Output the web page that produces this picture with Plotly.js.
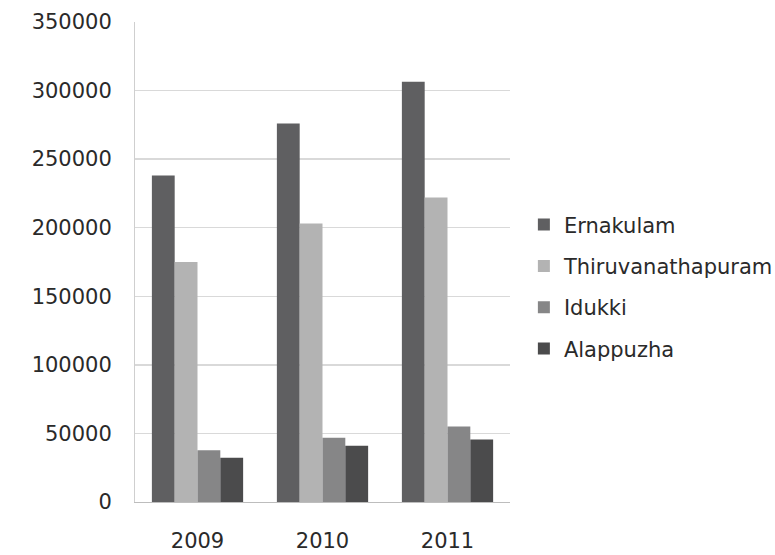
<!DOCTYPE html>
<html>
<head>
<meta charset="utf-8">
<script src="https://cdn.plot.ly/plotly-3.0.1.min.js"></script>
<style>html,body{margin:0;padding:0;background:#fff;}</style>
</head>
<body>
<div id="chart" style="width:775px;height:555px;"></div>
<script>
const years = ["2009", "2010", "2011"];
const ernakulam = [238000, 276000, 306500];
const thiruvananthapuram = [175000, 203000, 222000];
const idukki = [37800, 46800, 55000];
const alappuzha = [32200, 41000, 45600];

const names = ["Ernakulam", "Thiruvanathapuram", "Idukki", "Alappuzha"];
const colors = ["#5f5f61", "#b3b3b3", "#868687", "#4b4b4c"];
const series = [ernakulam, thiruvananthapuram, idukki, alappuzha];

const traces = series.map((vals, i) => ({
  type: "bar",
  x: years,
  y: vals,
  name: names[i],
  legendgroup: "g" + i,
  marker: {color: colors[i], line: {width: 0}},
  hoverinfo: "x+y+name"
}));

const font = {family: "'DejaVu Sans', sans-serif", size: 21, color: "#2a2a2a"};

const layout = {
  width: 775,
  height: 555,
  margin: {l: 135, r: 265, t: 22, b: 53, autoexpand: false},
  paper_bgcolor: "#ffffff",
  plot_bgcolor: "#ffffff",
  font: font,
  barmode: "group",
  bargap: 0.27,
  bargroupgap: 0,
  showlegend: true,
  legend: {
    x: 1.037, xanchor: "left",
    y: 0.448, yanchor: "middle",
    traceorder: "grouped",
    tracegroupgap: 11,
    font: font,
    itemclick: false
  },
  xaxis: {
    type: "category",
    showgrid: false,
    showline: true,
    linecolor: "#bdbdbd",
    linewidth: 1,
    ticks: "outside",
    ticklen: 20,
    tickcolor: "rgba(0,0,0,0)",
    tickfont: font,
    zeroline: false
  },
  yaxis: {
    range: [0, 350000],
    dtick: 50000,
    tickformat: "d",
    showgrid: true,
    gridcolor: "#d9d9d9",
    gridwidth: 1.5,
    showline: true,
    linecolor: "#cfcfcf",
    linewidth: 1,
    ticks: "outside",
    ticklen: 18,
    tickcolor: "rgba(0,0,0,0)",
    tickfont: font,
    zeroline: false
  }
};

Plotly.newPlot("chart", traces, layout, {displayModeBar: false, staticPlot: true});
</script>
</body>
</html>
